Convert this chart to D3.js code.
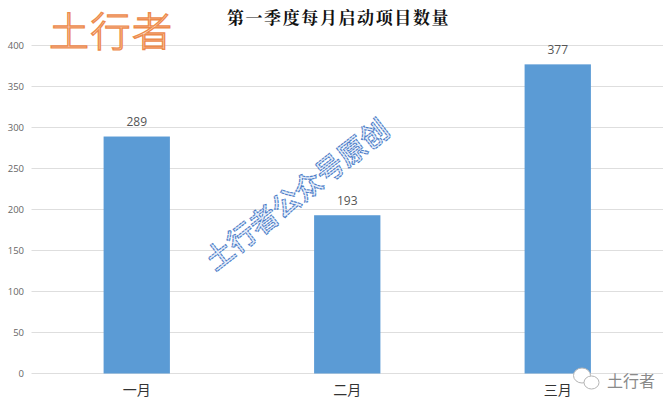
<!DOCTYPE html>
<html><head><meta charset="utf-8">
<script src="https://cdnjs.cloudflare.com/ajax/libs/d3/7.8.5/d3.min.js"></script>
<style>html,body{margin:0;padding:0;background:#fff}svg{display:block}</style>
</head><body><div id="chart"></div>
<script>
const categories = ["一月","二月","三月"];
const projectCounts = [289,193,377];
const yTicks = [0,50,100,150,200,250,300,350,400];
const chartTitle = "第一季度每月启动项目数量";
const W=672,H=404;
const cjk='"Noto Sans CJK SC","Noto Sans",sans-serif';
const svg=d3.select("#chart").append("svg").attr("width",W).attr("height",H).attr("viewBox",[0,0,W,H]);
svg.append("rect").attr("width",W).attr("height",H).attr("fill","#fff");
const x=d3.scaleBand().domain(categories).range([31.5,663]).paddingInner(0.685).paddingOuter(0.3425);
const y=d3.scaleLinear().domain([0,400]).range([373.5,45.5]);
svg.append("g").selectAll("line").data(yTicks).join("line")
 .attr("x1",31.5).attr("x2",663).attr("y1",d=>y(d)).attr("y2",d=>y(d))
 .attr("stroke","#dedede").attr("stroke-width",1);
svg.append("g").selectAll("text").data(yTicks).join("text")
 .attr("x",24).attr("y",d=>y(d)+0.5).attr("text-anchor","end").attr("dominant-baseline","middle")
 .attr("font-family","'Open Sans',sans-serif").attr("font-size",9.5).attr("fill","#666").text(d=>d);
svg.append("g").selectAll("rect").data(projectCounts).join("rect")
 .attr("x",(d,i)=>x(categories[i])).attr("width",x.bandwidth())
 .attr("y",d=>y(d)).attr("height",d=>y(0)-y(d)).attr("fill","#5b9bd5");
svg.append("g").selectAll("text").data(projectCounts).join("text")
 .attr("x",(d,i)=>x(categories[i])+x.bandwidth()/2).attr("y",d=>y(d)-10.5)
 .attr("text-anchor","middle").attr("font-family","'Open Sans',sans-serif")
 .attr("font-size",12).attr("fill","#555").text(d=>d);
svg.append("g").selectAll("text").data(categories).join("text")
 .attr("x",d=>x(d)+x.bandwidth()/2).attr("y",395)
 .attr("text-anchor","middle").attr("font-family",cjk).attr("font-size",14).attr("fill","#333").text(d=>d);
svg.append("text").attr("x",338.5).attr("y",24).attr("text-anchor","middle")
 .attr("font-family",'"Noto Serif CJK SC","Noto Sans CJK SC",serif').attr("font-weight",700)
 .attr("font-size",17).attr("letter-spacing",1.6).attr("fill","#111").text(chartTitle);
svg.append("text").attr("x",49).attr("y",46).attr("font-family",cjk).attr("font-size",40).attr("font-weight",300)
 .attr("letter-spacing",1.5).attr("fill","#fde9da").attr("stroke","#ed8b4c").attr("stroke-width",1.4).text("土行者");
svg.append("text").attr("transform","translate(215,271.5) rotate(-38)")
 .attr("font-family",cjk).attr("font-size",28).attr("font-weight",500)
 .attr("fill","#e6eefa").attr("stroke","#4f7fc9").attr("stroke-width",1.1).attr("stroke-dasharray","3 0.7").text("土行者公众号原创");
const wx=svg.append("g").attr("fill","#fff").attr("stroke","#b5b5b5").attr("stroke-width",1);
wx.append("ellipse").attr("cx",582).attr("cy",375.5).attr("rx",8.5).attr("ry",7.5);
wx.append("ellipse").attr("cx",591.5).attr("cy",382.5).attr("rx",7.5).attr("ry",6.5);
svg.append("text").attr("x",607).attr("y",387).attr("font-family",cjk).attr("font-size",16).attr("fill","#8a8a8a").text("土行者");
</script></body></html>
